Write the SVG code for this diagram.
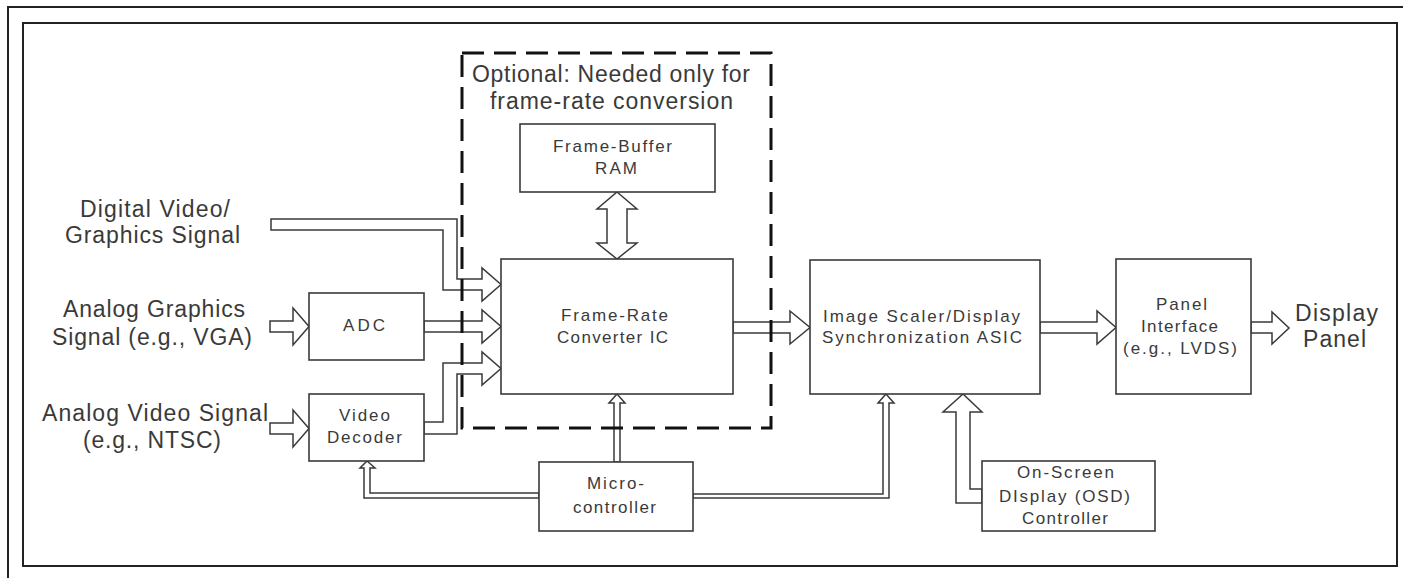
<svg xmlns="http://www.w3.org/2000/svg" width="1403" height="578" viewBox="0 0 1403 578">
<style>
.box{fill:#fff;stroke:#3a3a3a;stroke-width:1.6}
.arr{fill:#fff;stroke:#3a3a3a;stroke-width:1.5;stroke-linejoin:miter}
.frame{fill:none;stroke:#222;stroke-width:2}
.dash{fill:none;stroke:#111;stroke-width:3;stroke-dasharray:22 10}
text{font-family:"Liberation Sans",Arial,sans-serif;fill:#3a3a3a}
.big{font-size:23px}
.sm{font-size:17px}
</style>
<rect x="0" y="0" width="1403" height="578" fill="#fff"/>
<g id="frame">
<polyline class="frame" points="8,578 8,7 1403,7"/>
<rect class="frame" x="23" y="23" width="1374" height="543"/>
</g>
<g id="connectors">
<polygon class="arr" points="271,219 457,219 457,279 482,279 482,268 501,284.5 482,301 482,290 443,290 443,230 271,230"/>
<polygon class="arr" points="424,321 482,321 482,310 501,326.5 482,343 482,332 424,332"/>
<polygon class="arr" points="424,422 443,422 443,363 482,363 482,352 501,368.5 482,385 482,374 457,374 457,434 424,434"/>
<polygon class="arr" points="270,321 293,321 293,308 309,326.5 293,345 293,332 270,332"/>
<polygon class="arr" points="270,423 293,423 293,410 309,428.5 293,447 293,434 270,434"/>
<polygon class="arr" points="733,322 790,322 790,311 810,327.5 790,344 790,333 733,333"/>
<polygon class="arr" points="1040,322 1097,322 1097,311 1116,327.5 1097,344 1097,333 1040,333"/>
<polygon class="arr" points="1251,322 1272,322 1272,312 1289,328 1272,344 1272,333 1251,333"/>
<polygon class="arr" points="617,192 637,209 627,209 627,243 637,243 617,259 597,243 607,243 607,209 597,209"/>
<polygon class="arr" points="617,394 625,403 620,403 620,462 614,462 614,403 609,403"/>
<polygon class="arr" points="886,394 894,403 889,403 889,498 693,498 693,494 883,494 883,403 878,403"/>
<polygon class="arr" points="367,461 375,468 370,468 370,493 539,493 539,498 364,498 364,468 360,468"/>
<polygon class="arr" points="963,394 982,412 970,412 970,489 982,489 982,503 956,503 956,412 943,412"/>
</g>
<g id="optional-region">
<rect class="dash" x="462" y="53" width="309" height="375"/>
<text class="big" x="472" y="82" textLength="278" lengthAdjust="spacing">Optional: Needed only for</text>
<text class="big" x="490" y="109" textLength="243" lengthAdjust="spacing">frame-rate conversion</text>
</g>
<g id="digital-label">
<text class="big" x="80" y="217" textLength="150" lengthAdjust="spacing">Digital Video/</text>
<text class="big" x="65" y="243" textLength="175" lengthAdjust="spacing">Graphics Signal</text>
</g>
<g id="analog-graphics-label">
<text class="big" x="63" y="317" textLength="182" lengthAdjust="spacing">Analog Graphics</text>
<text class="big" x="52" y="345" textLength="200" lengthAdjust="spacing">Signal (e.g., VGA)</text>
</g>
<g id="analog-video-label">
<text class="big" x="42" y="421" textLength="226" lengthAdjust="spacing">Analog Video Signal</text>
<text class="big" x="83" y="448" textLength="138" lengthAdjust="spacing">(e.g., NTSC)</text>
</g>
<g id="adc">
<rect class="box" x="309" y="293" width="115" height="67"/>
<text class="sm" x="343" y="331" textLength="42" lengthAdjust="spacing">ADC</text>
</g>
<g id="video-decoder">
<rect class="box" x="309" y="394" width="115" height="67"/>
<text class="sm" x="339" y="421" textLength="51" lengthAdjust="spacing">Video</text>
<text class="sm" x="327" y="443" textLength="75" lengthAdjust="spacing">Decoder</text>
</g>
<g id="frame-buffer-ram">
<rect class="box" x="520" y="124" width="195" height="68"/>
<text class="sm" x="553" y="152" textLength="119" lengthAdjust="spacing">Frame-Buffer</text>
<text class="sm" x="595" y="174" textLength="42" lengthAdjust="spacing">RAM</text>
</g>
<g id="frame-rate-converter">
<rect class="box" x="501" y="259" width="232" height="135"/>
<text class="sm" x="561" y="321" textLength="107" lengthAdjust="spacing">Frame-Rate</text>
<text class="sm" x="557" y="343" textLength="111" lengthAdjust="spacing">Converter IC</text>
</g>
<g id="image-scaler">
<rect class="box" x="810" y="260" width="230" height="134"/>
<text class="sm" x="823" y="322" textLength="197" lengthAdjust="spacing">Image Scaler/Display</text>
<text class="sm" x="822" y="343" textLength="200" lengthAdjust="spacing">Synchronization ASIC</text>
</g>
<g id="panel-interface">
<rect class="box" x="1116" y="259" width="135" height="135"/>
<text class="sm" x="1156" y="310" textLength="51" lengthAdjust="spacing">Panel</text>
<text class="sm" x="1141" y="332" textLength="77" lengthAdjust="spacing">Interface</text>
<text class="sm" x="1123" y="354" textLength="114" lengthAdjust="spacing">(e.g., LVDS)</text>
</g>
<g id="display-panel">
<text class="big" x="1295" y="321" textLength="83" lengthAdjust="spacing">Display</text>
<text class="big" x="1303" y="347" textLength="63" lengthAdjust="spacing">Panel</text>
</g>
<g id="microcontroller">
<rect class="box" x="539" y="462" width="154" height="69"/>
<text class="sm" x="587" y="489" textLength="57" lengthAdjust="spacing">Micro-</text>
<text class="sm" x="573" y="513" textLength="83" lengthAdjust="spacing">controller</text>
</g>
<g id="osd-controller">
<rect class="box" x="982" y="461" width="173" height="70"/>
<text class="sm" x="1017" y="478" textLength="97" lengthAdjust="spacing">On-Screen</text>
<text class="sm" x="999" y="502" textLength="131" lengthAdjust="spacing">DIsplay (OSD)</text>
<text class="sm" x="1022" y="524" textLength="86" lengthAdjust="spacing">Controller</text>
</g>
</svg>
